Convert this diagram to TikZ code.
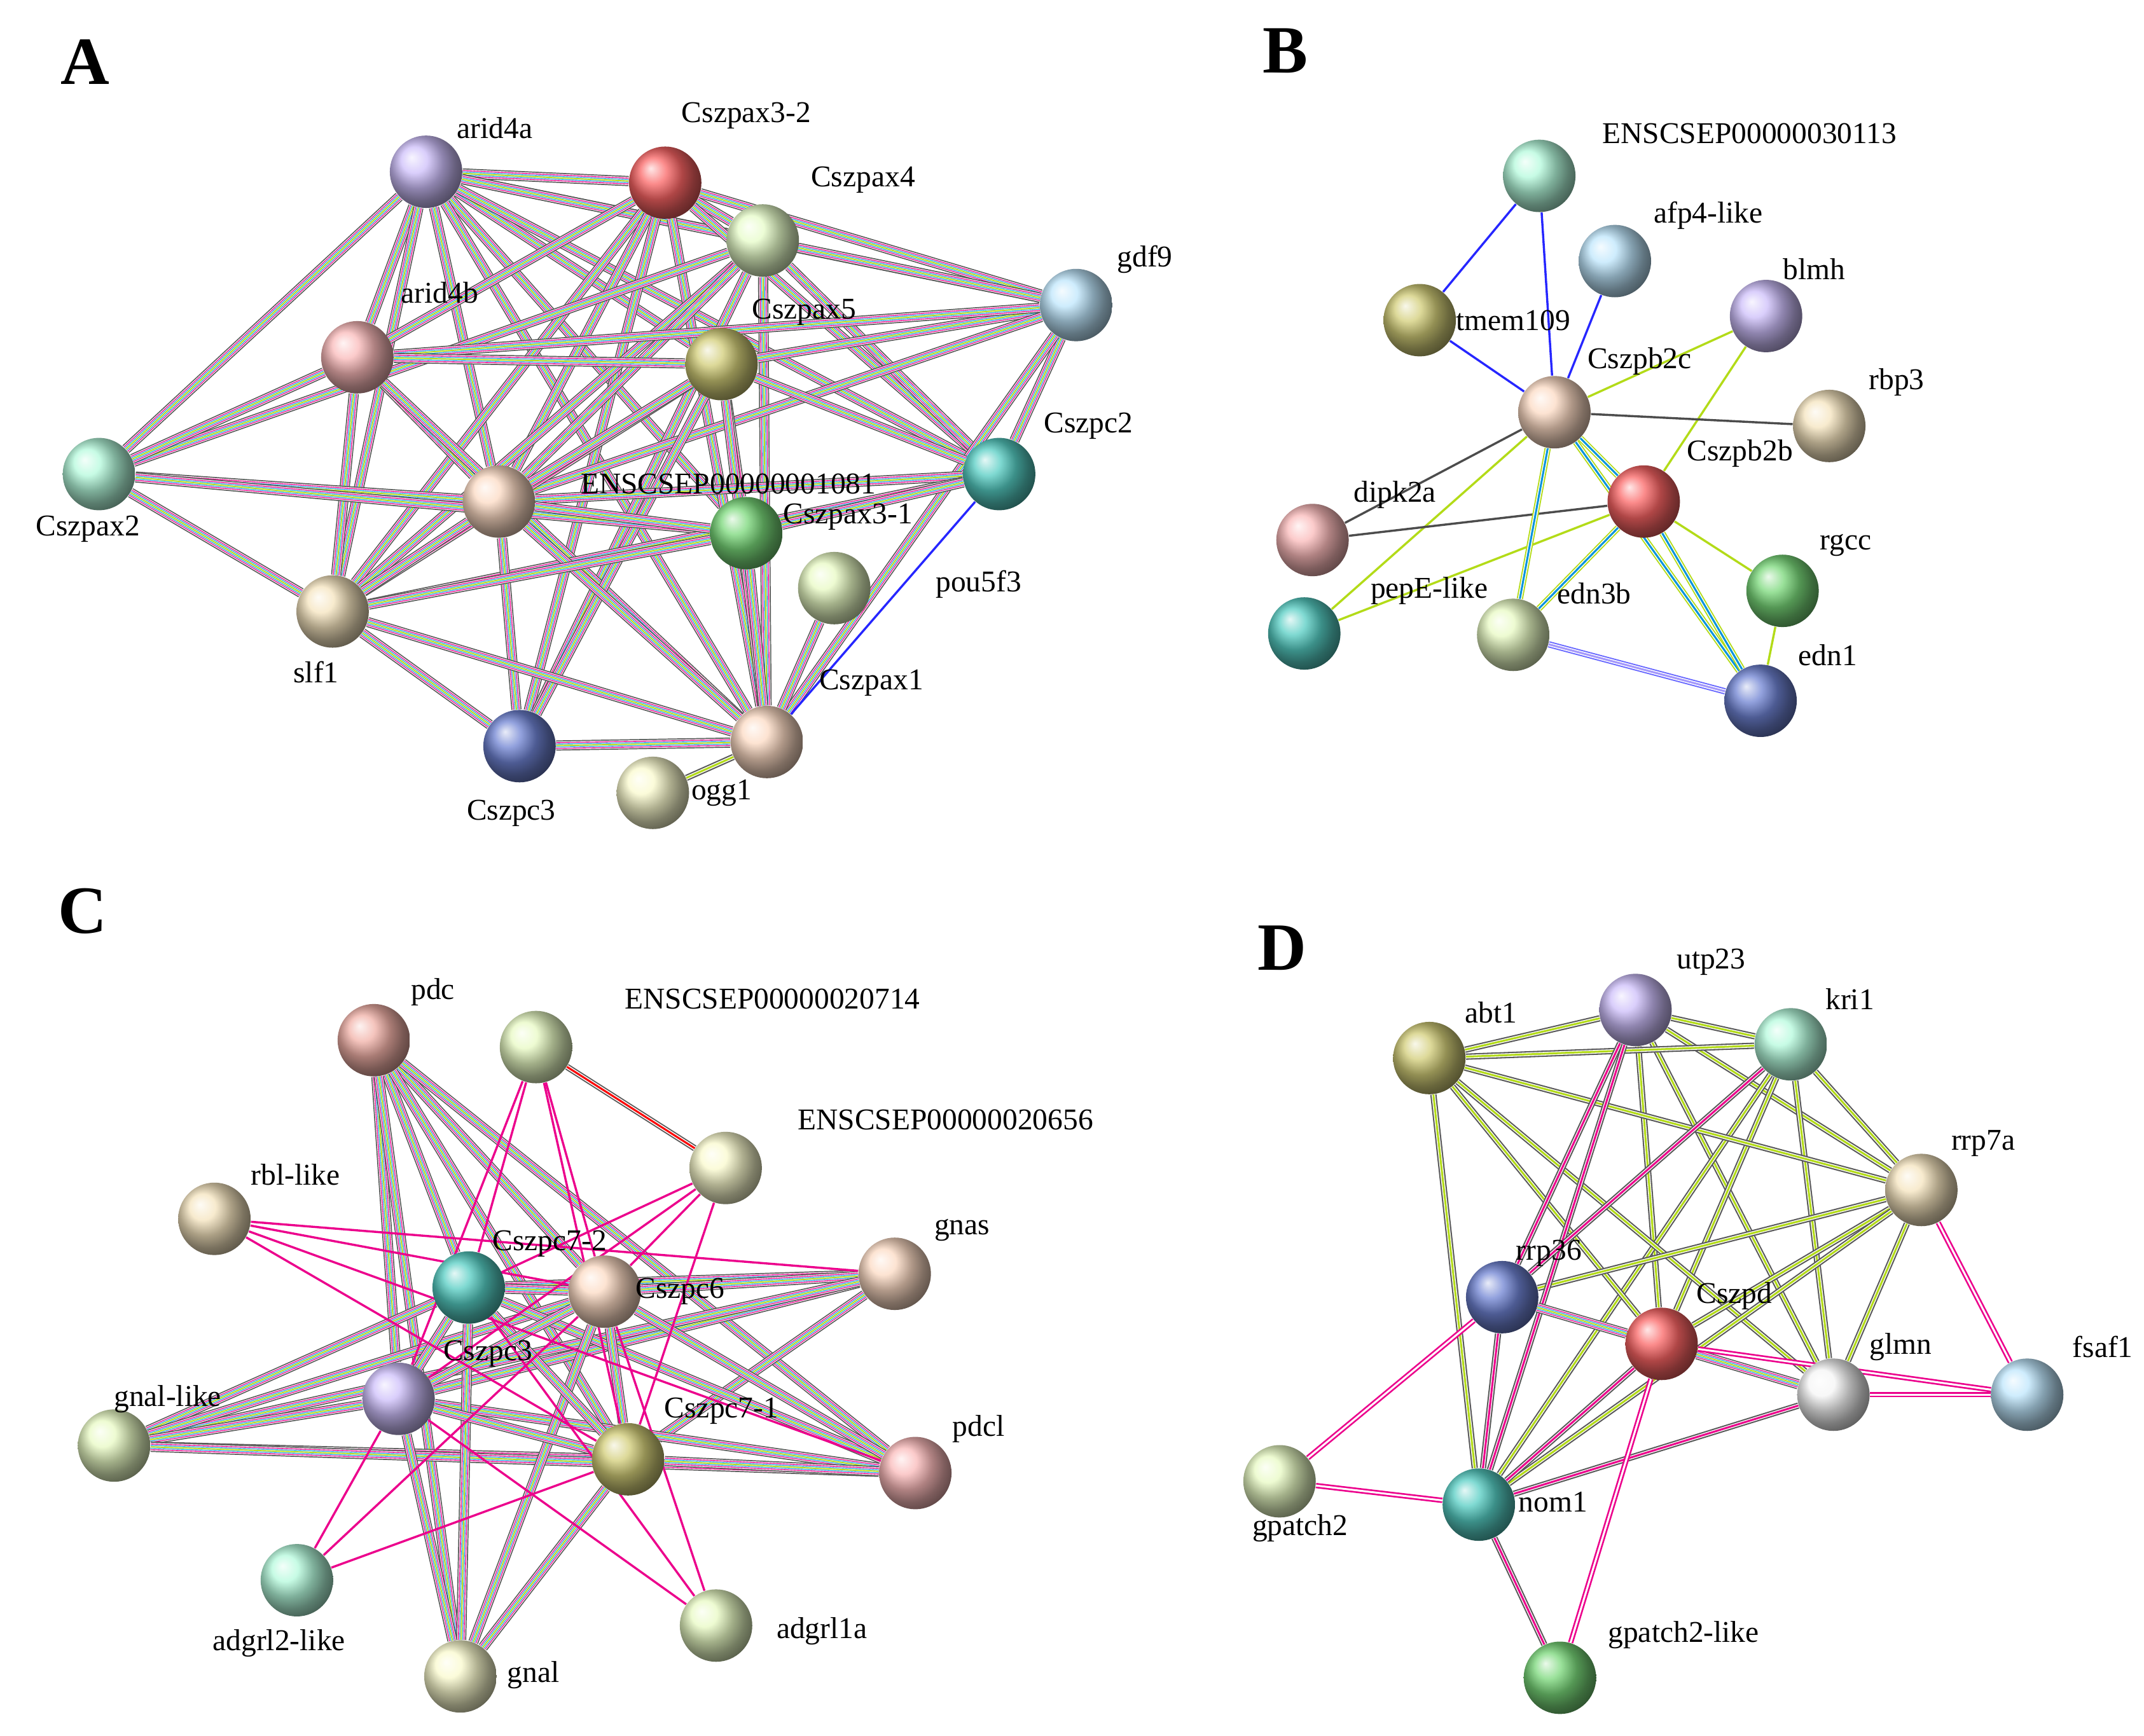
\documentclass[tikz,border=0pt]{standalone}
\usepackage{fontspec}
\setmainfont{Liberation Serif}
\pgfdeclarelayer{bg}
\pgfsetlayers{bg,main}
\definecolor{cpur}{RGB}{205,190,250}
\definecolor{cred}{RGB}{250,100,100}
\definecolor{clgr}{RGB}{230,252,200}
\definecolor{clbl}{RGB}{190,230,252}
\definecolor{cpnk}{RGB}{250,185,185}
\definecolor{colv}{RGB}{210,205,120}
\definecolor{cmnt}{RGB}{180,250,220}
\definecolor{ctea}{RGB}{85,205,195}
\definecolor{cpch}{RGB}{252,218,195}
\definecolor{cgrn}{RGB}{120,215,120}
\definecolor{cpgr}{RGB}{232,250,195}
\definecolor{ctan}{RGB}{245,228,190}
\definecolor{cnav}{RGB}{110,130,210}
\definecolor{cpyl}{RGB}{250,250,205}
\definecolor{cwht}{RGB}{245,245,245}
\tikzset{
 x=0.02cm, y=-0.02cm,
 b/.style={circle, minimum size=30pt, inner sep=0pt, shading=ball, ball color=#1},
 t/.style={font=\fontsize{12.5}{13}\selectfont, inner sep=0pt},
 L/.style={font=\fontsize{28}{30}\selectfont\bfseries, inner sep=0pt},
 m/.style={preaction={draw,black!65,line width=4.2pt},preaction={draw,white,line width=3.3pt},
   preaction={draw,magenta,line width=2.7pt},preaction={draw,white,line width=2.0pt},
   preaction={draw,cyan!80!blue,line width=1.5pt},preaction={draw,white,line width=0.9pt},
   draw=yellow!70!green,line width=0.5pt},
 k/.style={draw=black!70,line width=0.9pt},
 p/.style={draw=magenta,line width=0.9pt},
 yl/.style={draw=yellow!70!green,line width=0.9pt},
 bl/.style={draw=blue!85,line width=0.9pt},
 yk/.style={preaction={draw,black!65,line width=2.6pt},preaction={draw,white,line width=1.5pt},draw=yellow!70!green,line width=0.8pt},
 pk/.style={preaction={draw,black!65,line width=2.6pt},preaction={draw,white,line width=1.5pt},draw=magenta,line width=0.8pt},
}
\newcommand\ee[3]{\draw[#1] (#2) -- (#3);}
\begin{document}
\begin{tikzpicture}
\useasboundingbox (0,0) rectangle (1560,1263);
\begin{pgfonlayer}{bg}
\fill[white] (0,0) rectangle (1560,1263);
\end{pgfonlayer}
% letters
\node[L] (lA) at (62,45) {A};
\node[L] (lB) at (935,37) {B};
\node[L] (lC) at (60,663) {C};
\node[L] (lD) at (933,690) {D};
% ---------- A
\node[b=cpur] (a1) at (310,125) {};
\node[b=cred] (a2) at (484,133) {};
\node[b=clgr] (a3) at (555,175) {};
\node[b=clbl] (a4) at (783,222) {};
\node[b=cpnk] (a5) at (260,260) {};
\node[b=colv] (a6) at (525,265) {};
\node[b=cmnt] (a7) at (72,345) {};
\node[b=ctea] (a8) at (727,345) {};
\node[b=cpch] (a9) at (363,365) {};
\node[b=cgrn] (a10) at (543,388) {};
\node[b=cpgr] (a11) at (607,428) {};
\node[b=ctan] (a12) at (242,445) {};
\node[b=cnav] (a13) at (378,543) {};
\node[b=cpch] (a14) at (558,540) {};
\node[b=cpyl] (a15) at (475,577) {};
\node[t] (ta1) at (360,93) {arid4a};
\node[t] (ta2) at (543,84) {Cszpax3-2};
\node[t] (ta3) at (628,131) {Cszpax4};
\node[t] (ta4) at (833,189) {gdf9};
\node[t] (ta5) at (320,213) {arid4b};
\node[t] (ta6) at (585,227) {Cszpax5};
\node[t] (ta7) at (64,385) {Cszpax2};
\node[t] (ta8) at (792,310) {Cszpc2};
\node[t] (ta9) at (530,352) {ENSCSEP00000001081};
\node[t] (ta10) at (617,376) {Cszpax3-1};
\node[t] (ta11) at (712,425) {pou5f3};
\node[t] (ta12) at (230,489) {slf1};
\node[t] (ta13) at (372,592) {Cszpc3};
\node[t] (ta14) at (634,497) {Cszpax1};
\node[t] (ta15) at (525,577) {ogg1};
\begin{pgfonlayer}{bg}
\foreach \u/\v in {a1/a5,a1/a7,a1/a9,a1/a12,a1/a2,a1/a3,a1/a6,a1/a4,a1/a8,a1/a10,a1/a14,
 a2/a3,a2/a4,a2/a8,a2/a12,a2/a9,a2/a13,a2/a14,a2/a5,
 a3/a4,a3/a8,a3/a12,a3/a13,a3/a9,a3/a14,a3/a7,
 a4/a6,a4/a9,a4/a8,a4/a14,a4/a5,
 a5/a7,a5/a6,a5/a12,a5/a9,a5/a14,
 a6/a8,a6/a12,a6/a9,a6/a13,a6/a10,a6/a14,
 a7/a9,a7/a12,a7/a10,a8/a9,a8/a12,a8/a10,
 a9/a12,a9/a13,a9/a14,a9/a10,a12/a13,a12/a14,a12/a10,a13/a14,a14/a11,a10/a14}
 {\ee{m}{\u}{\v}}
\ee{bl}{a8}{a14}
\ee{yk}{a14}{a15}
\end{pgfonlayer}
% ---------- B
\node[b=cmnt] (b1) at (1120,128) {};
\node[b=clbl] (b2) at (1175,190) {};
\node[b=colv] (b3) at (1033,233) {};
\node[b=cpur] (b4) at (1285,230) {};
\node[b=cpch] (b5) at (1131,300) {};
\node[b=ctan] (b6) at (1331,310) {};
\node[b=cred] (b7) at (1196,365) {};
\node[b=cpnk] (b8) at (955,393) {};
\node[b=cgrn] (b9) at (1297,430) {};
\node[b=ctea] (b10) at (949,461) {};
\node[b=cpgr] (b11) at (1101,462) {};
\node[b=cnav] (b12) at (1281,510) {};
\node[t] (tb1) at (1273,97) {ENSCSEP00000030113};
\node[t] (tb2) at (1243,157) {afp4-like};
\node[t] (tb3) at (1101,233) {tmem109};
\node[t] (tb4) at (1320,196) {blmh};
\node[t] (tb5) at (1193,263) {Cszpb2c};
\node[t] (tb6) at (1380,278) {rbp3};
\node[t] (tb7) at (1266,330) {Cszpb2b};
\node[t] (tb8) at (1015,360) {dipk2a};
\node[t] (tb9) at (1343,397) {rgcc};
\node[t] (tb10) at (1040,430) {pepE-like};
\node[t] (tb11) at (1160,432) {edn3b};
\node[t] (tb12) at (1330,477) {edn1};
\begin{pgfonlayer}{bg}
\ee{bl}{b1}{b3}\ee{bl}{b1}{b5}\ee{bl}{b3}{b5}\ee{bl}{b2}{b5}
\ee{yl}{b4}{b5}\ee{yl}{b4}{b7}\ee{k}{b5}{b6}\ee{k}{b5}{b8}\ee{yl}{b5}{b10}
\ee{k}{b7}{b8}\ee{yl}{b7}{b10}\ee{yl}{b7}{b9}\ee{yl}{b9}{b12}
\foreach \u/\v in {b5/b7,b5/b11,b5/b12,b7/b11,b7/b12}{\draw[preaction={draw,yellow!70!green,line width=2.6pt},preaction={draw,white,line width=1.6pt},draw=cyan!80!blue,line width=0.8pt] (\u) -- (\v);}
\draw[preaction={draw,blue!60,line width=2.6pt},preaction={draw,white,line width=1.6pt},draw=cpur!80!blue,line width=0.8pt] (b11) -- (b12);
\end{pgfonlayer}
% ---------- C
\node[b=cpnk!85!brown] (c1) at (272,757) {};
\node[b=cpgr] (c2) at (390,762) {};
\node[b=cpyl] (c3) at (528,850) {};
\node[b=ctan] (c4) at (156,887) {};
\node[b=cpch] (c5) at (651,927) {};
\node[b=ctea] (c6) at (341,937) {};
\node[b=cpch] (c7) at (440,940) {};
\node[b=cpur] (c8) at (290,1018) {};
\node[b=cpgr] (c9) at (83,1052) {};
\node[b=colv] (c10) at (457,1062) {};
\node[b=cpnk] (c11) at (666,1072) {};
\node[b=cmnt] (c12) at (216,1150) {};
\node[b=cpgr] (c13) at (521,1183) {};
\node[b=cpyl] (c14) at (335,1220) {};
\node[t] (tc1) at (315,722) {pdc};
\node[t] (tc2) at (562,727) {ENSCSEP00000020714};
\node[t] (tc3) at (688,815) {ENSCSEP00000020656};
\node[t] (tc4) at (215,855) {rbl-like};
\node[t] (tc5) at (700,895) {gnas};
\node[t] (tc6) at (400,905) {Cszpc7-2};
\node[t] (tc7) at (495,940) {Cszpc6};
\node[t] (tc8) at (355,985) {Cszpc3};
\node[t] (tc9) at (122,1018) {gnal-like};
\node[t] (tc10) at (525,1027) {Cszpc7-1};
\node[t] (tc11) at (712,1040) {pdcl};
\node[t] (tc12) at (203,1196) {adgrl2-like};
\node[t] (tc13) at (598,1187) {adgrl1a};
\node[t] (tc14) at (388,1219) {gnal};
\begin{pgfonlayer}{bg}
\foreach \u/\v in {c1/c6,c1/c7,c1/c8,c1/c10,c1/c14,c1/c11,
 c5/c6,c5/c7,c5/c8,c5/c9,c5/c10,c9/c6,c9/c7,c9/c8,c9/c10,c9/c11,
 c11/c6,c11/c7,c11/c8,c11/c10,c14/c6,c14/c7,c14/c8,c14/c10,
 c6/c7,c6/c8,c6/c10,c7/c8,c7/c10,c8/c10}{\ee{m}{\u}{\v}}
\draw[preaction={draw,black!65,line width=2.6pt},preaction={draw,white,line width=1.6pt},draw=red,line width=0.8pt] (c2) -- (c3);
\foreach \u/\v in {c2/c6,c2/c8,c2/c7,c2/c10,c3/c6,c3/c7,c3/c8,c3/c10,
 c4/c7,c4/c10,c4/c5,c4/c11,c12/c8,c12/c7,c12/c10,c13/c8,c13/c6,c13/c7}{\ee{p}{\u}{\v}}
\end{pgfonlayer}
% ---------- D
\node[b=cpur] (d1) at (1190,735) {};
\node[b=cmnt] (d2) at (1303,760) {};
\node[b=colv] (d3) at (1040,770) {};
\node[b=ctan] (d4) at (1398,866) {};
\node[b=cnav] (d5) at (1093,944) {};
\node[b=cred] (d6) at (1209,978) {};
\node[b=cwht] (d7) at (1334,1015) {};
\node[b=clbl] (d8) at (1475,1015) {};
\node[b=cpgr] (d9) at (931,1078) {};
\node[b=ctea] (d10) at (1076,1095) {};
\node[b=cgrn] (d11) at (1135,1221) {};
\node[t] (td1) at (1245,700) {utp23};
\node[t] (td2) at (1346,727) {kri1};
\node[t] (td3) at (1085,737) {abt1};
\node[t] (td4) at (1443,832) {rrp7a};
\node[t] (td5) at (1127,912) {rrp36};
\node[t] (td6) at (1262,943) {Cszpd};
\node[t] (td7) at (1383,980) {glmn};
\node[t] (td8) at (1530,980) {fsaf1};
\node[t] (td9) at (946,1112) {gpatch2};
\node[t] (td10) at (1130,1093) {nom1};
\node[t] (td11) at (1225,1190) {gpatch2-like};
\begin{pgfonlayer}{bg}
\foreach \u/\v in {d1/d2,d1/d3,d1/d4,d1/d6,d1/d7,d2/d3,d2/d4,d2/d6,d2/d7,d2/d10,
 d3/d4,d3/d6,d3/d7,d4/d5,d4/d6,d4/d7,d4/d10,d5/d7,d3/d10}{\ee{yk}{\u}{\v}}
\foreach \u/\v in {d1/d5,d1/d10,d2/d5,d5/d10,d6/d10,d7/d10}{\ee{pk}{\u}{\v}}
\ee{m}{d5}{d6}\ee{m}{d6}{d7}
\foreach \u/\v in {d4/d8,d6/d8,d7/d8,d6/d11,d5/d9,d10/d9}{\draw[preaction={draw,magenta,line width=2.2pt},draw=white,line width=0.8pt] (\u) -- (\v);}
\ee{pk}{d10}{d11}
\end{pgfonlayer}
\end{tikzpicture}
\end{document}
